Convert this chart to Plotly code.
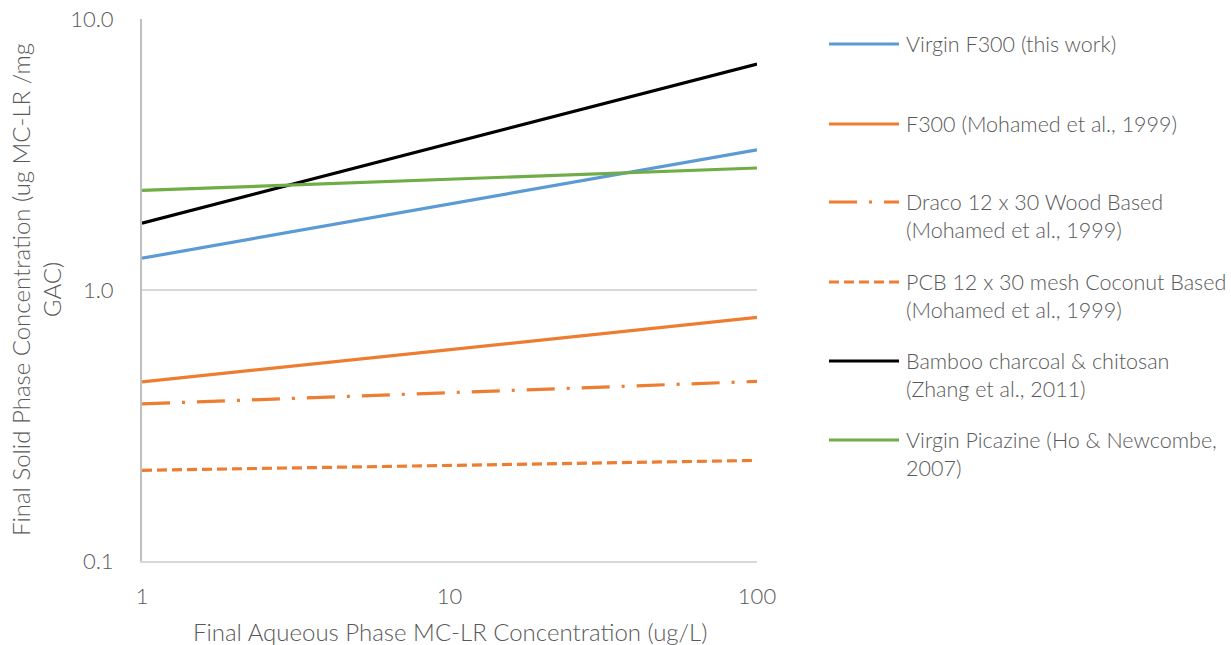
import plotly.graph_objects as go

# Freundlich isotherm end points (log-log straight lines)
aqueous_conc = [1, 100]  # ug/L

series_names = [
    "Virgin F300 (this work)",
    "F300 (Mohamed et al., 1999)",
    "Draco 12 x 30 Wood Based<br>(Mohamed et al., 1999)",
    "PCB 12 x 30 mesh Coconut Based<br>(Mohamed et al., 1999)",
    "Bamboo charcoal & chitosan<br>(Zhang et al., 2011)",
    "Virgin Picazine (Ho & Newcombe,<br>2007)",
]
virgin_f300 = [1.31, 3.29]
f300_mohamed = [0.458, 0.792]
draco_wood = [0.380, 0.460]
pcb_coconut = [0.216, 0.235]
bamboo_chitosan = [1.765, 6.82]
virgin_picazine = [2.33, 2.82]

y_ticks = [0.1, 1, 10]
y_tick_text = ["0.1", "1.0", "10.0"]
x_ticks = [1, 10, 100]
x_tick_text = ["1", "10", "100"]

series_values = [virgin_f300, f300_mohamed, draco_wood, pcb_coconut,
                 bamboo_chitosan, virgin_picazine]
colors = ["#5B9BD5", "#ED7D31", "#ED7D31", "#ED7D31", "#000000", "#70AD47"]
dashes = ["solid", "solid", "28px,12px,3px,12px", "10px,5px", "solid", "solid"]

FONT = "Lato"
TEXT = "#595959"
WEIGHT = 300
FS_LEGEND = 21.5
FS_TICK = 22
FS_TITLE = 24

W, H = 1231, 645
L, R, T, B = 142, 757, 19, 561


def px_x(px):
    return (px - L) / (R - L)


def px_y(py):
    return (B - py) / (B - T)


def text_font(size):
    return dict(family=FONT, size=size, color=TEXT, weight=WEIGHT)


fig = go.Figure()
for name, vals, c, d in zip(series_names, series_values, colors, dashes):
    fig.add_trace(go.Scatter(
        x=aqueous_conc, y=vals, mode="lines", name=name.replace("<br>", " "),
        line=dict(color=c, width=3.2, dash=d), showlegend=False,
    ))

# legend drawn beside the plot area
legend_rows = [44, 124, 202, 282, 361, 440]
shapes = []
annotations = []
for name, c, d, row in zip(series_names, colors, dashes, legend_rows):
    shapes.append(dict(
        type="line", xref="paper", yref="paper",
        x0=px_x(829), x1=px_x(899), y0=px_y(row), y1=px_y(row),
        line=dict(color=c, width=3.2, dash=d),
    ))
    annotations.append(dict(
        text=name, xref="paper", yref="paper",
        x=px_x(904), y=px_y(row - 15.5), xanchor="left", yanchor="top",
        align="left", showarrow=False, font=text_font(FS_LEGEND),
    ))

annotations.append(dict(
    text="Final Solid Phase Concentration (ug MC-LR /mg<br>GAC)",
    xref="paper", yref="paper", x=px_x(36), y=0.5,
    xanchor="center", yanchor="middle", textangle=-90, showarrow=False,
    font=text_font(FS_TITLE),
))
annotations.append(dict(
    text="Final Aqueous Phase MC-LR Concentration (ug/L)",
    xref="paper", yref="paper", x=0.5, y=px_y(631),
    xanchor="center", yanchor="middle", showarrow=False,
    font=text_font(FS_TITLE),
))

fig.update_layout(
    width=W, height=H,
    margin=dict(l=L, r=W - R, t=T, b=H - B),
    paper_bgcolor="white", plot_bgcolor="white",
    font=text_font(FS_LEGEND),
    shapes=shapes, annotations=annotations,
    showlegend=False,
)
fig.update_xaxes(
    type="log", range=[0, 2], tickvals=x_ticks, ticktext=x_tick_text,
    showgrid=False, zeroline=False, showline=True, linecolor="#D9D9D9",
    linewidth=1.5, ticks="", ticklabelstandoff=15, automargin=False,
    tickfont=text_font(FS_TICK),
)
fig.update_yaxes(
    type="log", range=[-1, 1], tickvals=y_ticks, ticktext=y_tick_text,
    showgrid=True, gridcolor="#D9D9D9", gridwidth=1.5, zeroline=False,
    showline=True, linecolor="#BFBFBF", linewidth=2, ticks="",
    ticklabelstandoff=22, automargin=False,
    tickfont=text_font(FS_TICK),
)

fig.write_html("out.html")
